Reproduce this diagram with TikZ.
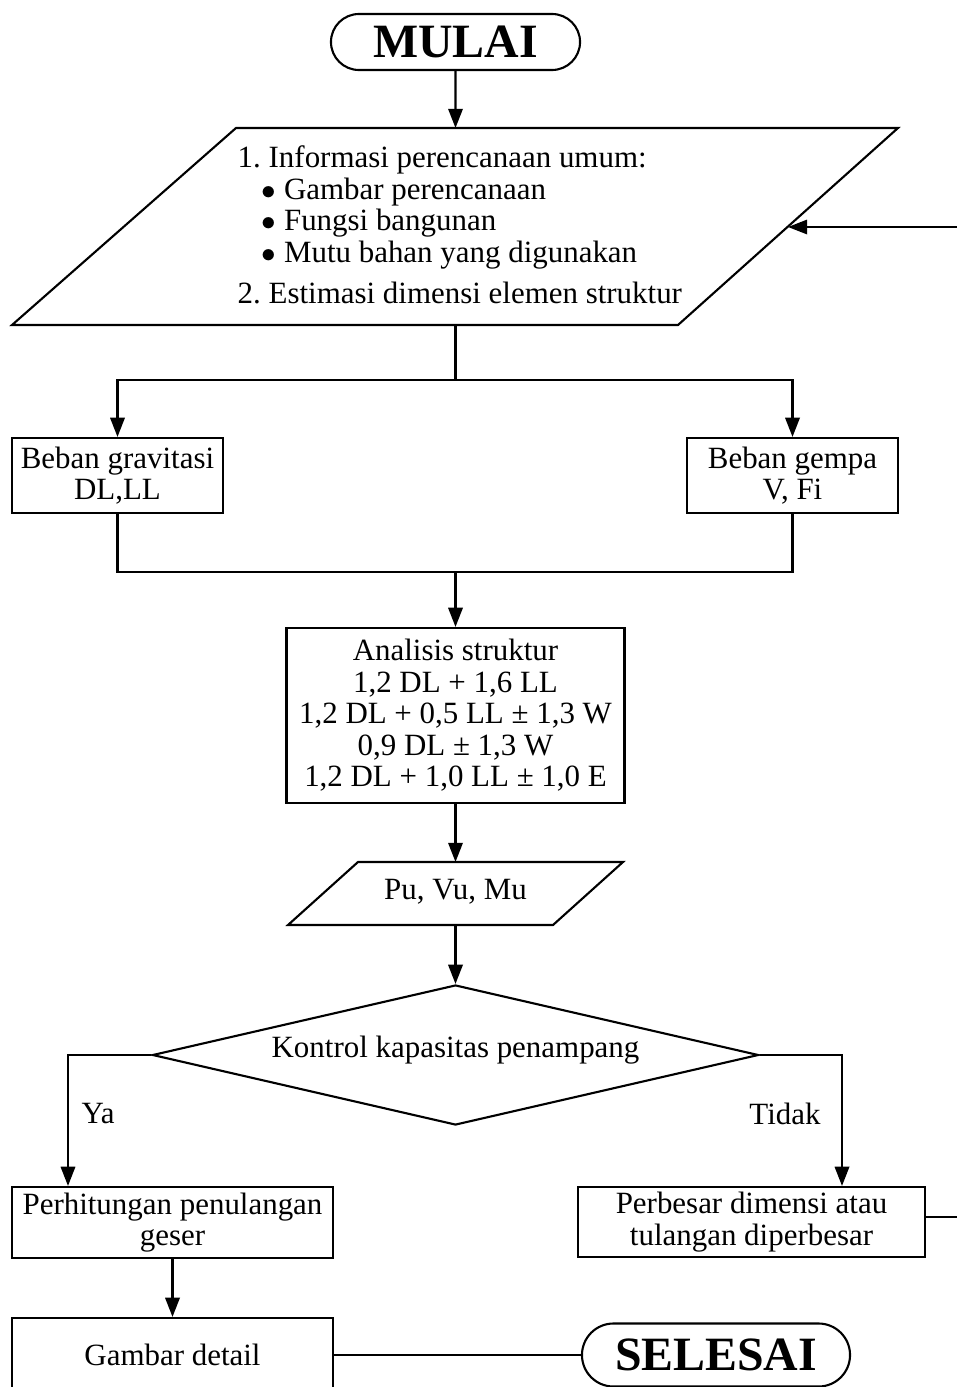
\documentclass[tikz,border=0pt]{standalone}
\usepackage{fontspec}
\setmainfont{Liberation Serif}
\usetikzlibrary{arrows.meta, positioning, calc, shapes.geometric, shapes.misc}
\frenchspacing

\begin{document}
\begin{tikzpicture}[
  x=0.025cm, y=-0.025cm,
  line width=1.5pt,
  every node/.style={font=\fontsize{22}{22.4}\selectfont},
  arr/.style={-{Triangle[length=0.48cm, width=0.36cm]}},
  box/.style={draw, line width=1.5pt, align=center, inner sep=0pt},
  term/.style={draw, line width=1.5pt, rounded rectangle, inner sep=0pt,
    font=\fontsize{34}{34}\selectfont\bfseries},
  cek/.style={draw, line width=1.5pt, diamond, aspect=4.33, inner sep=0pt,
    minimum width=15.15cm, minimum height=3.5cm},
]
\useasboundingbox (0,0) rectangle (957,1387);
\clip (0,0) rectangle (957,1387);

% start
\node[term, minimum width=6.225cm, minimum height=1.4cm] (mulai) at (455.5,42) {MULAI};

% input data
\draw (236,128) -- (898,128) -- (678,325) -- (12,325) -- cycle;
\coordinate (inp-t) at (455.5,128);
\coordinate (inp-b) at (455.5,325);
\coordinate (inp-r) at (788,227);
\node[anchor=west, align=left] (inp) at (232,225) {1. Informasi perencanaan umum:\\
  \hspace{0.6cm}$\bullet$ Gambar perencanaan\\
  \hspace{0.6cm}$\bullet$ Fungsi bangunan\\
  \hspace{0.6cm}$\bullet$ Mutu bahan yang digunakan\\[0.25cm]
  2. Estimasi dimensi elemen struktur};

% loads
\node[box, minimum width=5.275cm, minimum height=1.875cm] (grav) at (117.5,475.5) {Beban gravitasi\\DL,LL};
\node[box, minimum width=5.275cm, minimum height=1.875cm] (gempa) at (792.5,475.5) {Beban gempa\\V, Fi};
\coordinate (split) at (455.5,380);
\coordinate (merge) at (455.5,572);

% analysis
\node[box, minimum width=8.45cm, minimum height=4.375cm] (anls) at (455.5,715.5) {Analisis struktur\\
  1,2 DL + 1,6 LL\\
  1,2 DL + 0,5 LL ± 1,3 W\\
  0,9 DL ± 1,3 W\\
  1,2 DL + 1,0 LL ± 1,0 E};

% forces
\draw (358,862) -- (623,862) -- (553,925) -- (288,925) -- cycle;
\coordinate (pu-t) at (455.5,862);
\coordinate (pu-b) at (455.5,925);
\node (pu) at (455.5,892) {Pu, Vu, Mu};

% check
\node[cek] (kontrol) at (455.5,1055) {};
\node (kontrol-txt) at (455.5,1050) {Kontrol kapasitas penampang};
\coordinate (ya) at (68,1055);
\coordinate (tidak) at (842,1055);
\node (ya-lbl) at (98,1114) {Ya};
\node (tidak-lbl) at (785,1114) {Tidak};

\node[box, minimum width=8.025cm, minimum height=1.775cm] (hitung) at (172.5,1222.5) {Perhitungan penulangan\\geser};
\node[box, minimum width=8.675cm, minimum height=1.75cm] (besar) at (751.5,1222) {Perbesar dimensi atau\\tulangan diperbesar};
\node[box, minimum width=8.025cm, minimum height=1.85cm] (gbr) at (172.5,1355) {Gambar detail};
\node[term, minimum width=6.7cm, minimum height=1.575cm] (selesai) at (716,1355) {SELESAI};
\coordinate (ret-b) at (957,1217);
\coordinate (ret-t) at (957,227);

% connectors
\draw[arr] (mulai) -- (inp-t);
\draw (inp-b) -- (split);
\draw[arr] (split) -| (grav);
\draw[arr] (split) -| (gempa);
\draw (grav) |- (merge) -| (gempa);
\draw[arr] (merge) -- (anls);
\draw[arr] (anls) -- (pu-t);
\draw[arr] (pu-b) -- (kontrol);
\draw[arr] (kontrol.west) -- (ya) -- (ya |- hitung.north);
\draw[arr] (kontrol.east) -- (tidak) -- (tidak |- besar.north);
\draw[arr] (hitung) -- (gbr);
\draw (gbr.east) -- (gbr.east -| selesai.west);
\draw (besar.east |- ret-b) -- (ret-b);
\draw[arr] (ret-t) -- (inp-r);
\end{tikzpicture}
\end{document}
